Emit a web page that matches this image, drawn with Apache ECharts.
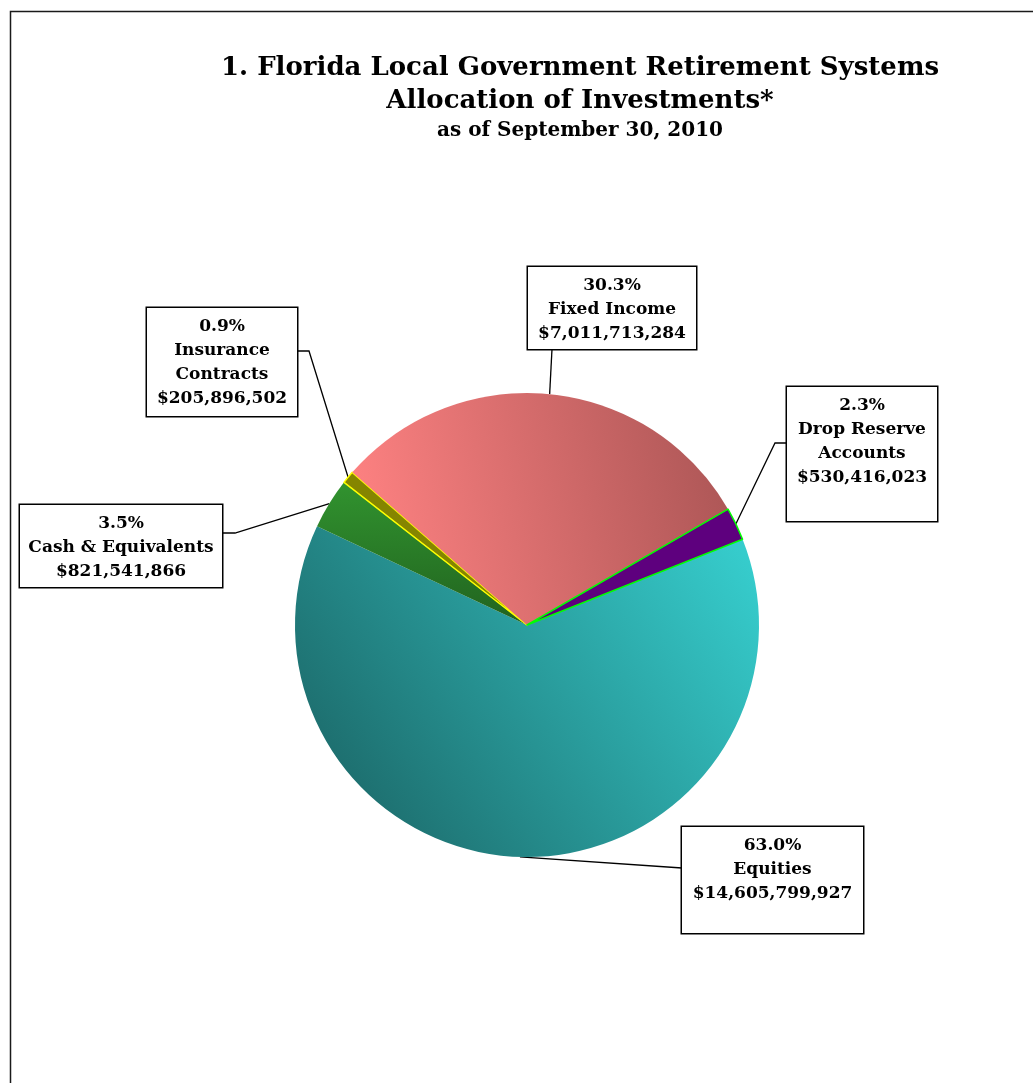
<!DOCTYPE html>
<html><head><meta charset="utf-8">
<script src="https://cdn.jsdelivr.net/npm/echarts@6/dist/echarts.min.js"></script>
<style>html,body{margin:0;padding:0;background:#fff}#c{width:1033px;height:1083px}</style>
</head><body><div id="c"></div>
<script>
// ---- data ----
const categories = ['Equities', 'Cash & Equivalents', 'Insurance\nContracts', 'Fixed Income', 'Drop Reserve\nAccounts'];
const values = [14605799927, 821541866, 205896502, 7011713284, 530416023];
const titleLines = ['1. Florida Local Government Retirement Systems', 'Allocation of Investments*'];
const subtitleText = 'as of September 30, 2010';

// ---- styles ----
const grad = (x, y, x2, y2, c0, c1) => ({type: 'linear', x: x, y: y, x2: x2, y2: y2,
  colorStops: [{offset: 0, color: c0}, {offset: 1, color: c1}]});
const sliceStyles = [
  {color: grad(1, 0.15, 0.1, 1, '#36CCCC', '#1B6666'), borderWidth: 0},
  {color: grad(0.5, 0, 0.5, 1, '#31932F', '#21631F'), borderWidth: 0},
  {color: '#858500', borderColor: '#FFFF00', borderWidth: 1.5},
  {color: grad(0, 0.6, 1, 0.25, '#FF8282', '#AC5656'), borderWidth: 0},
  {color: '#5E007E', borderColor: '#00FF00', borderWidth: 1.5}
];
// label box layout (left, top, width, height) and leader-line bend/attach points
const boxes = [
  {left: 682, top: 827, w: 181, h: 106, line: [[682, 868]]},
  {left: 20,  top: 505, w: 202, h: 82,  line: [[235, 533], [222, 533]]},
  {left: 147, top: 308, w: 150, h: 108, line: [[309, 351], [297, 351]]},
  {left: 528, top: 267, w: 168, h: 82,  line: [[552, 349]]},
  {left: 787, top: 387, w: 150, h: 134, line: [[775, 443], [787, 443]]}
];
const PADT = 7;

const chart = echarts.init(document.getElementById('c'), null, {renderer: 'canvas'});
const seriesData = categories.map((name, i) => ({
  name: name,
  value: values[i],
  itemStyle: sliceStyles[i],
  label: {width: boxes[i].w, height: boxes[i].h - PADT}
}));

chart.setOption({
  animation: false,
  backgroundColor: '#ffffff',
  title: {
    text: titleLines.join('\n'),
    subtext: subtitleText,
    left: 580,
    top: 52,
    textAlign: 'center',
    itemGap: 1,
    padding: 0,
    textStyle: {fontFamily: 'DejaVu Serif', fontWeight: 'bold', fontSize: 26, lineHeight: 33, color: '#000'},
    subtextStyle: {fontFamily: 'DejaVu Serif', fontWeight: 'bold', fontSize: 20, lineHeight: 24, color: '#000'}
  },
  graphic: [{
    type: 'rect', left: 8, top: 9, silent: true,
    shape: {width: 1200, height: 1200},
    style: {fill: 'none', stroke: '#1a1a1a', lineWidth: 1.5}
  }],
  series: [{
    type: 'pie',
    center: [527, 625],
    radius: 232,
    startAngle: 21.7,
    clockwise: true,
    avoidLabelOverlap: false,
    emphasis: {disabled: true},
    data: seriesData,
    label: {
      show: true,
      position: 'outside',
      formatter: p => p.percent.toFixed(1) + '%\n' + p.name + '\n$' + p.value.toLocaleString('en-US'),
      fontFamily: 'DejaVu Serif',
      fontWeight: 'bold',
      fontSize: 17,
      lineHeight: 24,
      color: '#000',
      backgroundColor: '#fff',
      borderColor: '#000',
      borderWidth: 1.5,
      padding: [PADT, 0, 0, 0],
      align: 'center'
    },
    labelLine: {show: true, length: 20, length2: 10, smooth: false,
      lineStyle: {color: '#000', width: 1.3}},
    labelLayout: function (params) {
      const b = boxes[params.dataIndex];
      const p0 = params.labelLinePoints ? params.labelLinePoints[0] : null;
      const out = {x: b.left + b.w / 2, y: b.top, align: 'center', verticalAlign: 'top'};
      if (p0) out.labelLinePoints = [p0].concat(b.line);
      return out;
    }
  }]
});
</script>
</body></html>
